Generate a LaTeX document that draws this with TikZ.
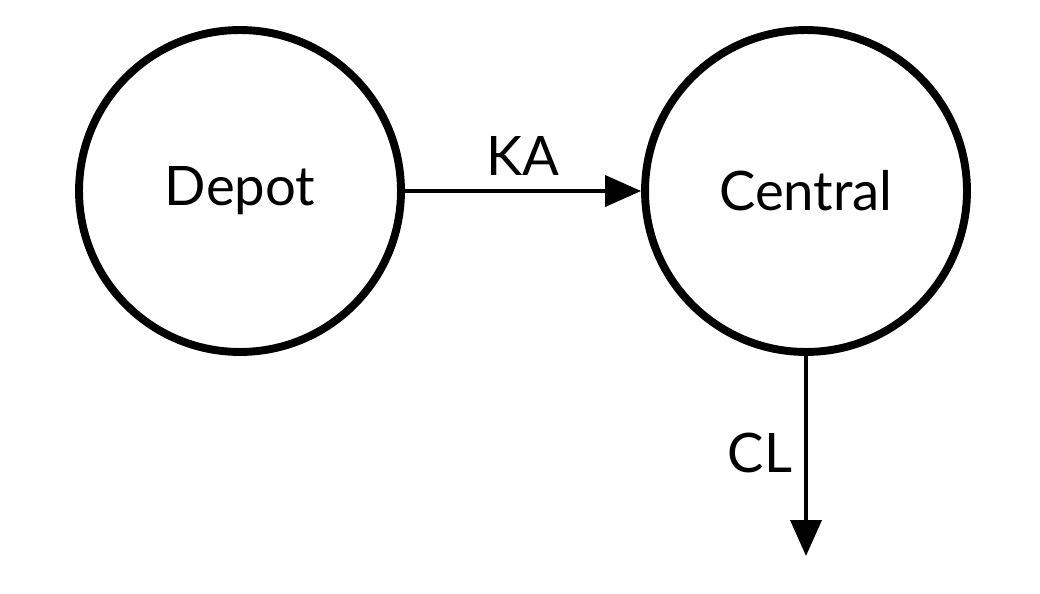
\documentclass[tikz,border=0pt]{standalone}
\usepackage{fontspec}
\setmainfont{Lato}
\usetikzlibrary{arrows.meta}
\begin{document}
\begin{tikzpicture}[x=0.02cm,y=-0.02cm,
  state/.style={circle,draw=black,line width=4.5pt,minimum size=6.44cm,inner sep=0pt,font=\fontsize{31}{36}\selectfont},
  flow/.style={line width=2.2pt,-{Triangle[length=0.72cm,width=0.62cm]}},
  lbl/.style={font=\fontsize{31}{36}\selectfont,inner sep=0pt}]
\useasboundingbox (0,0) rectangle (1040,594);
\node[state] (depot) at (240,191) {Depot};
\node[state] (central) at (806,191) {Central};
\coordinate (out) at (806,556);
\draw[flow] (depot) -- node[lbl,above=8pt] (ka) {KA} (central);
\draw[flow] (central) -- (out);
\node[lbl] (cl) at (760,453) {CL};
\end{tikzpicture}
\end{document}
